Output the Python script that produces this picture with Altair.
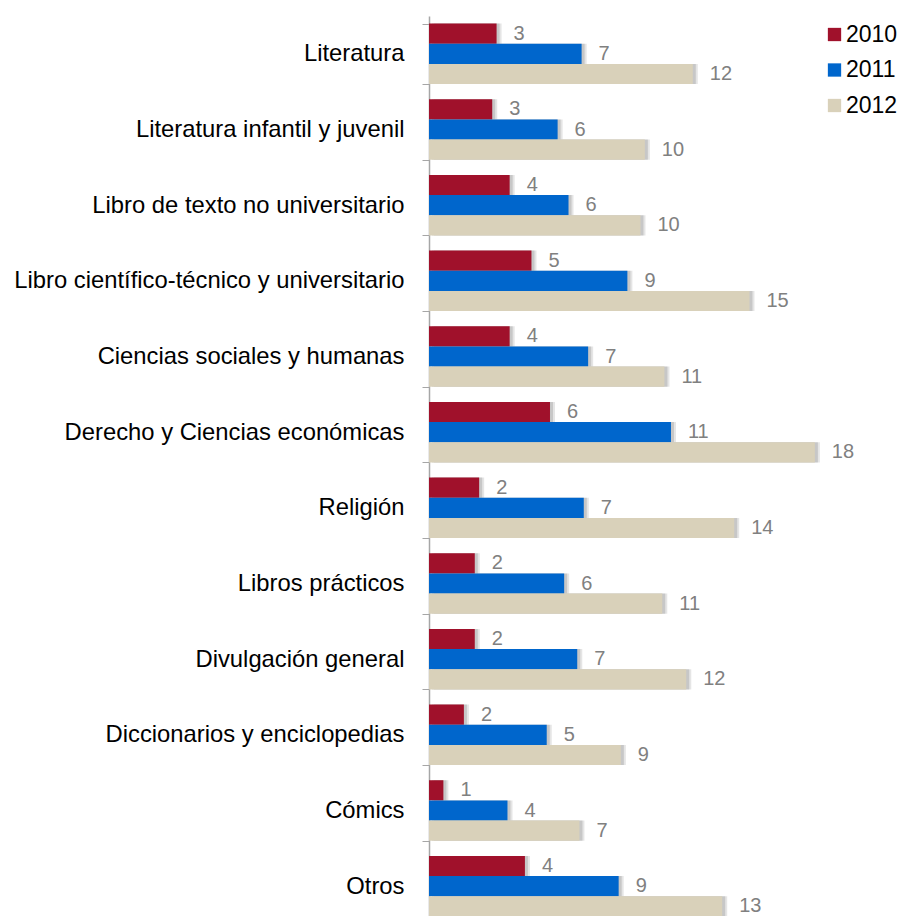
import altair as alt
import pandas as pd

categories = [
    "Literatura",
    "Literatura infantil y juvenil",
    "Libro de texto no universitario",
    "Libro científico-técnico y universitario",
    "Ciencias sociales y humanas",
    "Derecho y Ciencias económicas",
    "Religión",
    "Libros prácticos",
    "Divulgación general",
    "Diccionarios y enciclopedias",
    "Cómics",
    "Otros",
]
years = ["2010", "2011", "2012"]
v2010 = [3.1, 2.9, 3.7, 4.7, 3.7, 5.55, 2.3, 2.1, 2.1, 1.6, 0.66, 4.4]
v2011 = [7.0, 5.9, 6.4, 9.1, 7.3, 11.1, 7.1, 6.2, 6.8, 5.4, 3.6, 8.7]
v2012 = [12.1, 9.9, 9.7, 14.7, 10.8, 17.7, 14.0, 10.7, 11.8, 8.8, 6.9, 13.45]
colors = ["#A0112B", "#0066CC", "#D9D1BA"]

rows = []
for yr, vals in zip(years, [v2010, v2011, v2012]):
    for c, v in zip(categories, vals):
        rows.append({"cat": c, "year": yr, "value": v})
df = pd.DataFrame(rows)

FONT = "Liberation Sans"

y_enc = alt.Y(
    "cat:N",
    sort=categories,
    scale=alt.Scale(paddingInner=0.2, paddingOuter=0.1, range=[0, 908]),
    axis=alt.Axis(
        title=None,
        labelFont=FONT,
        labelFontSize=23.8,
        labelColor="#000000",
        labelPadding=18,
        tickBand="extent",
        tickSize=7,
        tickColor="#A6A6A6",
        domainColor="#A6A6A6",
        domainWidth=1.5,
        labelLimit=600,
    ),
)
yoff = alt.YOffset("year:N", sort=years)
x_enc = alt.X("value:Q", scale=alt.Scale(domain=[0, 20]), axis=None)

base = alt.Chart(df).encode(y=y_enc, yOffset=yoff, x=x_enc)

shadow1 = base.mark_bar(color="#6f6f6f", opacity=0.18, xOffset=5, x2Offset=5, yOffset=5, y2Offset=5)
shadow2 = base.mark_bar(color="#6f6f6f", opacity=0.25, xOffset=3, x2Offset=3, yOffset=3, y2Offset=3)

bars = base.mark_bar().encode(
    color=alt.Color(
        "year:N",
        sort=years,
        scale=alt.Scale(domain=years, range=colors),
        legend=alt.Legend(
            title=None,
            orient="none",
            legendX=394,
            legendY=7,
            symbolType="square",
            symbolSize=177,
            symbolStrokeWidth=0,
            labelFont=FONT,
            labelFontSize=23,
            labelColor="#000000",
            rowPadding=11.5,
            labelOffset=0,
        ),
    )
)

labels = base.mark_text(
    align="left", baseline="middle", dx=17, font=FONT, fontSize=20, color="#808080"
).encode(text=alt.Text("value:Q", format=".0f"))

chart = (
    alt.layer(shadow1, shadow2, bars, labels)
    .properties(
        width=436,
        height=900,
        autosize=alt.AutoSizeParams(type="none"),
        padding={"left": 421, "top": 8, "right": 33, "bottom": 0},
    )
    .configure_view(stroke=None)
    .configure_axis(grid=False)
)

chart.save("out.html", embed_options={"renderer": "svg", "actions": False})
